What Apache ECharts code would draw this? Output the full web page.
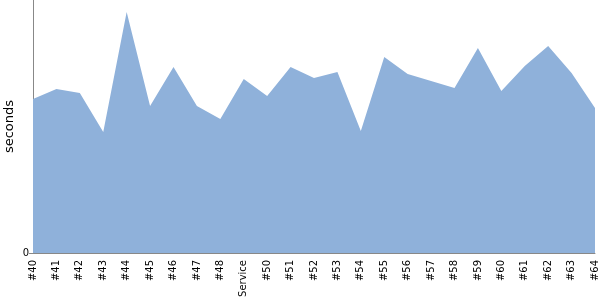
<!DOCTYPE html>
<html>
<head>
<meta charset="utf-8">
<script src="https://cdn.jsdelivr.net/npm/echarts@6/dist/echarts.min.js"></script>
<style>html,body{margin:0;padding:0;background:#fff}#c{width:600px;height:300px}</style>
</head>
<body>
<div id="c"></div>
<script>
var categories = ['#40','#41','#42','#43','#44','#45','#46','#47','#48','Service','#50','#51','#52','#53','#54','#55','#56','#57','#58','#59','#60','#61','#62','#63','#64'];
var seconds = [154,164,160,121,241,147,186,147,134,174,157,186,175,181,122,196,179,172,165,205,162,187,207,180,145];
var yMax = 253;
var yTicks = [0];

var chart = echarts.init(document.getElementById('c'), null, {renderer:'canvas'});
chart.setOption({
  animation: false,
  grid: {left: 33, right: 5, top: 0, bottom: 47, containLabel: false, outerBoundsMode: 'none'},
  xAxis: {
    type: 'category',
    data: categories,
    boundaryGap: false,
    axisLine: {lineStyle: {color: '#888', width: 1}},
    axisTick: {show: false},
    axisLabel: {rotate: 90, interval: 0, margin: 7, color: '#000', fontSize: 10, fontFamily: 'DejaVu Sans'},
    splitLine: {show: false}
  },
  yAxis: {
    type: 'value',
    min: 0, max: yMax,
    name: 'seconds',
    nameLocation: 'middle',
    nameGap: 17,
    nameMoveOverlap: false,
    nameTextStyle: {color: '#000', fontSize: 13, fontFamily: 'DejaVu Sans'},
    axisLine: {show: true, lineStyle: {color: '#888', width: 1}},
    axisTick: {show: true, length: 4, lineStyle: {color: '#888'}, customValues: yTicks},
    axisLabel: {color: '#000', fontSize: 10, fontFamily: 'DejaVu Sans', margin: 4, customValues: yTicks},
    splitLine: {show: false}
  },
  series: [{
    type: 'line',
    data: seconds,
    symbol: 'none',
    lineStyle: {width: 0},
    areaStyle: {color: '#8FB1DA', opacity: 1},
    itemStyle: {color: '#8FB1DA'}
  }]
});
</script>
</body>
</html>
